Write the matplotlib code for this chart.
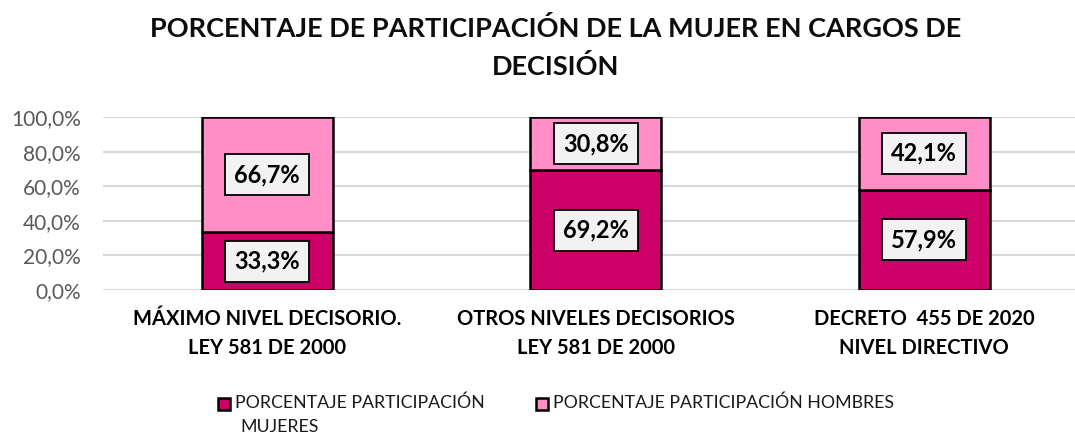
import matplotlib.pyplot as plt
import matplotlib.patches as mpatches
from matplotlib.ticker import FuncFormatter

plt.rcParams['font.family'] = ['Lato', 'DejaVu Sans']

# Data
categories = ['MÁXIMO NIVEL DECISORIO.\nLEY 581 DE 2000',
              'OTROS NIVELES DECISORIOS\nLEY 581 DE 2000',
              'DECRETO  455 DE 2020\nNIVEL DIRECTIVO']
mujeres = [33.3, 69.2, 57.9]
hombres = [66.7, 30.8, 42.1]
series_names = ['PORCENTAJE PARTICIPACIÓN', 'MUJERES', 'PORCENTAJE PARTICIPACIÓN HOMBRES']
title_lines = ['PORCENTAJE DE PARTICIPACIÓN DE LA MUJER EN CARGOS DE', 'DECISIÓN']

c_muj = '#CC0066'
c_hom = '#FF8FC6'

W, H = 1075, 433
fig = plt.figure(figsize=(W / 100, H / 100), dpi=100)
ax = fig.add_axes([103 / W, 143 / H, 985.5 / W, 173 / H])

x = range(len(categories))
ax.bar(x, mujeres, width=0.40, color=c_muj, edgecolor='black', linewidth=1.8, zorder=3)
ax.bar(x, hombres, width=0.40, bottom=mujeres, color=c_hom, edgecolor='black', linewidth=1.8, zorder=3)

box = dict(boxstyle='square,pad=0.38', facecolor='#F2F2F2', edgecolor='black', linewidth=1.3)
for i in x:
    ax.text(i, mujeres[i] / 2, f"{mujeres[i]:.1f}%".replace('.', ','), ha='center', va='center',
            fontsize=17, fontweight='bold', color='black', bbox=box, zorder=4)
    ax.text(i, mujeres[i] + hombres[i] / 2, f"{hombres[i]:.1f}%".replace('.', ','), ha='center', va='center',
            fontsize=17, fontweight='bold', color='black', bbox=box, zorder=4)

ax.set_xlim(-0.5, 2.5)
ax.set_ylim(0, 100)
ax.set_yticks(range(0, 101, 20))
ax.yaxis.set_major_formatter(FuncFormatter(lambda v, p: f"{v:.1f}%".replace('.', ',')))
ax.grid(axis='y', color='#D9D9D9', linewidth=1.5, zorder=0)
for s in ax.spines.values():
    s.set_visible(False)
ax.tick_params(axis='y', length=0, labelsize=15, labelcolor='#595959', pad=16)
ax.tick_params(axis='x', length=0, pad=14)
ax.set_xticks(list(x))
ax.set_xticklabels(categories, fontsize=14.5, fontweight='bold', color='black', linespacing=1.55)

# Title, one line at a time on fixed baselines
for txt, base in zip(title_lines, [37, 75]):
    fig.text(556 / W, 1 - base / H, txt, ha='center', va='baseline',
             fontsize=19.5, fontweight='bold', color='#0d0d0d')

# Legend drawn by hand so the marker lines up with the first text line
for (mx, col) in [(218, c_muj), (536, c_hom)]:
    fig.patches.append(mpatches.Rectangle((mx / W, 1 - 410 / H), 12 / W, 12 / H, transform=fig.transFigure,
                                          facecolor=col, edgecolor='black', linewidth=1.8))
fig.text(235 / W, 1 - 403 / H, series_names[0], ha='left', va='center', fontsize=12.8, color='#1a1a1a')
fig.text(240 / W, 1 - 427 / H, series_names[1], ha='left', va='center', fontsize=12.8, color='#1a1a1a')
fig.text(553 / W, 1 - 403 / H, series_names[2], ha='left', va='center', fontsize=12.8, color='#1a1a1a')

fig.savefig('out.png', dpi=100)
